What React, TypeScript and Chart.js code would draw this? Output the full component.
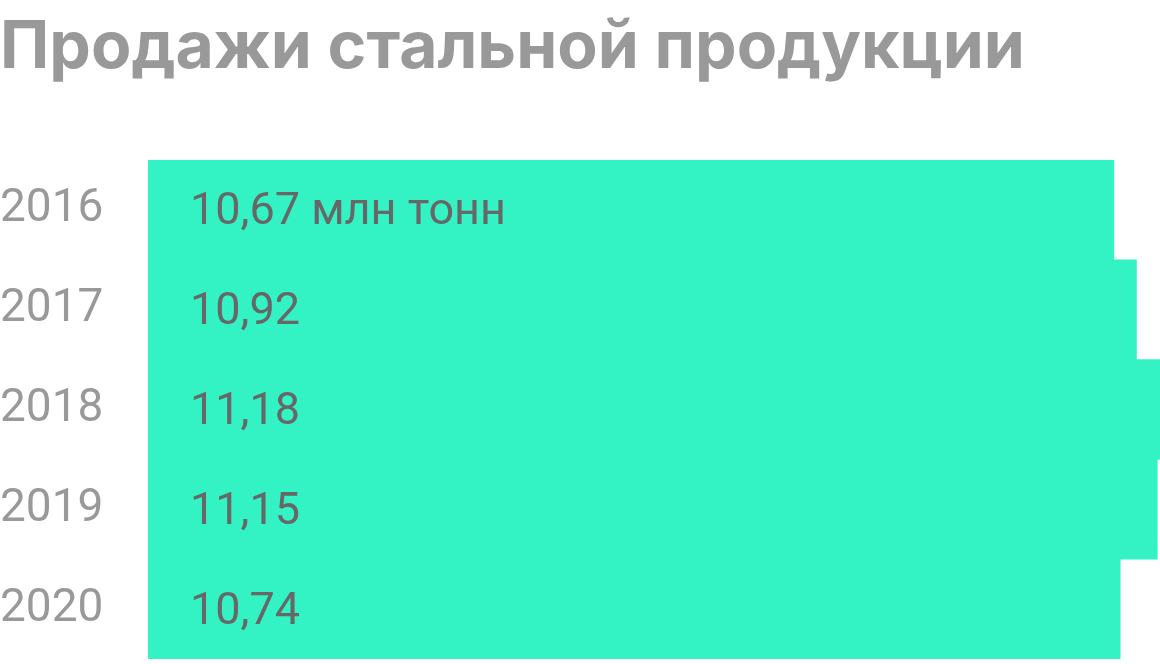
import { useEffect, useRef } from "react";
import Chart from "chart.js/auto";

const years = ["2016", "2017", "2018", "2019", "2020"];
const sales = [10.67, 10.92, 11.18, 11.15, 10.74];
const valueLabels = ["10,67 млн тонн", "10,92", "11,18", "11,15", "10,74"];

const FONT = "Roboto, 'Noto Sans', sans-serif";
const TITLE_FONT = "Inter, Roboto, sans-serif";

// подписи значений внутри столбцов
const barLabels = {
  id: "barLabels",
  afterDatasetsDraw(chart: Chart) {
    const { ctx, chartArea } = chart;
    const meta = chart.getDatasetMeta(0);
    ctx.save();
    ctx.font = `400 45px ${FONT}`;
    ctx.fillStyle = "#676767";
    ctx.textAlign = "left";
    ctx.textBaseline = "alphabetic";
    meta.data.forEach((bar: any, i: number) => {
      ctx.fillText(valueLabels[i], chartArea.left + 42, bar.y + 14.5);
    });
    ctx.restore();
  },
};

export default function App() {
  const canvasRef = useRef<HTMLCanvasElement>(null);
  const chartRef = useRef<Chart | null>(null);

  useEffect(() => {
    if (!canvasRef.current) return;
    if (chartRef.current) chartRef.current.destroy();

    chartRef.current = new Chart(canvasRef.current, {
      type: "bar",
      data: {
        labels: years,
        datasets: [
          {
            label: "Продажи",
            data: sales,
            backgroundColor: "#33f3c5",
            borderWidth: 0,
            categoryPercentage: 1,
            barPercentage: 1,
          },
        ],
      },
      options: {
        indexAxis: "y",
        animation: false,
        responsive: true,
        maintainAspectRatio: false,
        layout: { padding: { left: 0, right: 0, top: 0, bottom: 5 } },
        plugins: {
          legend: { display: false },
          tooltip: { enabled: false },
          title: {
            display: true,
            text: "Продажи стальной продукции",
            align: "start",
            color: "#999999",
            font: { family: TITLE_FONT, size: 66, weight: "bold", lineHeight: 1 },
            padding: { top: 15.5, bottom: 78.5 },
          },
        },
        scales: {
          x: {
            display: false,
            min: 0,
            max: 11.18,
          },
          y: {
            grid: { display: false },
            border: { display: false },
            ticks: {
              color: "#999999",
              font: { family: FONT, size: 46 },
              crossAlign: "far",
              padding: 0,
            },
            afterFit(scale: any) {
              scale.width = 148;
              scale.paddingTop = 0;
              scale.paddingBottom = 0;
            },
          },
        },
      },
      plugins: [barLabels],
    });

    return () => {
      if (chartRef.current) {
        chartRef.current.destroy();
        chartRef.current = null;
      }
    };
  }, []);

  return (
    <div
      style={{
        position: "absolute",
        left: 0,
        top: 0,
        width: 1160,
        height: 664,
        background: "#ffffff",
      }}
    >
      <canvas ref={canvasRef} />
    </div>
  );
}
